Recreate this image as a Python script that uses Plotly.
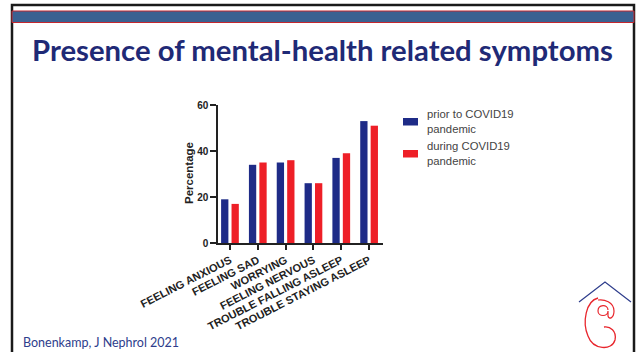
import plotly.graph_objects as go

categories = ["FEELING ANXIOUS", "FEELING SAD", "WORRYING", "FEELING NERVOUS",
              "TROUBLE FALLING ASLEEP", "TROUBLE STAYING ASLEEP"]
prior_values = [19, 34, 35, 26, 37, 53]
during_values = [17, 35, 36, 26, 39, 51]
series_names = ["prior to COVID19<br>pandemic", "during COVID19<br>pandemic"]
y_ticks = [0, 20, 40, 60]

W, H = 637, 352
ML, MR, MT, MB = 218, 254, 105, 109
PW, PH = W - ML - MR, H - MT - MB


def px(x):
    return (x - ML) / PW


def py(y):
    return (H - MB - y) / PH


BLUE = "#1E2B87"
RED = "#EE1F27"

fig = go.Figure()
fig.add_trace(go.Bar(x=list(range(len(categories))), y=prior_values, name=series_names[0],
                     marker=dict(color=BLUE, line=dict(width=0)), showlegend=False))
fig.add_trace(go.Bar(x=list(range(len(categories))), y=during_values, name=series_names[1],
                     marker=dict(color=RED, line=dict(width=0)), showlegend=False))

shapes = []
# slide frame
shapes.append(dict(type="rect", xref="paper", yref="paper", x0=px(12), x1=px(634), y0=py(5), y1=py(360),
                   line=dict(color="#1a1a1a", width=2.5), fillcolor="rgba(0,0,0,0)", layer="below"))
# header band
shapes.append(dict(type="rect", xref="paper", yref="paper", x0=px(12), x1=px(634), y0=py(11), y1=py(22.5),
                   line=dict(color="#C4262E", width=1), fillcolor="#3A6191", layer="below"))
# custom legend swatches
shapes.append(dict(type="rect", xref="paper", yref="paper", x0=px(403), x1=px(418), y0=py(118), y1=py(125.5),
                   line=dict(width=0), fillcolor=BLUE))
shapes.append(dict(type="rect", xref="paper", yref="paper", x0=px(403), x1=px(418), y0=py(150), y1=py(157.5),
                   line=dict(width=0), fillcolor=RED))


def path(points_cmds):
    out = []
    for cmd, pts in points_cmds:
        s = cmd
        s += " ".join(f"{px(a):.5f},{py(b):.5f}" for a, b in pts)
        out.append(s)
    return " ".join(out)


# logo: roof
shapes.append(dict(type="path", xref="paper", yref="paper",
                   path=path([("M", [(579, 302)]), ("L", [(605, 282)]), ("L", [(631, 302)])]),
                   line=dict(color="#2E3D8C", width=1.2)))
# logo: red curl
shapes.append(dict(type="path", xref="paper", yref="paper",
                   path=path([("M", [(598, 298)]),
                              ("C", [(586, 301), (582, 322), (588, 336)]),
                              ("C", [(593, 350), (612, 351), (615, 340)]),
                              ("C", [(617, 331), (610, 326), (604, 327)])]),
                   line=dict(color="#E8262D", width=1.3)))
shapes.append(dict(type="path", xref="paper", yref="paper",
                   path=path([("M", [(608, 310)]),
                              ("C", [(608, 304), (598, 304), (598, 311)]),
                              ("C", [(598, 317), (608, 317), (608, 311)]),
                              ("L", [(608, 316)]),
                              ("C", [(609, 320), (614, 318), (614, 311)]),
                              ("C", [(614, 302), (604, 299), (598, 300)])]),
                   line=dict(color="#E8262D", width=1.2)))

annotations = [
    dict(text="<b>Presence of mental-health related symptoms</b>", xref="paper", yref="paper",
         x=px(322.5), y=py(49), xanchor="center", yanchor="middle", showarrow=False,
         font=dict(family="Lato", size=29.3, color="#1F2A76")),
    dict(text="Bonenkamp, J Nephrol 2021", xref="paper", yref="paper",
         x=px(21), y=py(342), xanchor="left", yanchor="middle", showarrow=False,
         font=dict(family="Lato", size=12.5, color="#2E3D8C")),
    dict(text="<b>Percentage</b>", xref="paper", yref="paper", x=px(189), y=py(173),
         xanchor="center", yanchor="middle", showarrow=False, textangle=-90,
         font=dict(family="Liberation Sans", size=11.5, color="#222")),
    dict(text=series_names[0], xref="paper", yref="paper", x=px(425), y=py(121.5),
         xanchor="left", yanchor="middle", align="left", showarrow=False,
         font=dict(family="Liberation Sans", size=11.3, color="#444")),
    dict(text=series_names[1], xref="paper", yref="paper", x=px(425), y=py(153.5),
         xanchor="left", yanchor="middle", align="left", showarrow=False,
         font=dict(family="Liberation Sans", size=11.3, color="#444")),
]

fig.update_layout(
    width=W, height=H, autosize=False,
    margin=dict(l=ML, r=MR, t=MT, b=MB, pad=0),
    paper_bgcolor="white", plot_bgcolor="white",
    barmode="group", bargap=0.25, bargroupgap=0.3,
    shapes=shapes, annotations=annotations,
    showlegend=False,
)
fig.update_xaxes(
    range=[-0.43, 5.5], tickmode="array", tickvals=list(range(len(categories))), ticktext=categories,
    tickangle=-27, showgrid=False, zeroline=False, showline=True, linecolor="#222", linewidth=1.5,
    ticks="outside", ticklen=5, tickwidth=1.5, tickcolor="#222",
    tickfont=dict(family="Liberation Sans", size=11, color="#222", weight="bold"),
)
fig.update_yaxes(
    range=[0, 60], tickvals=y_ticks, showgrid=False, zeroline=False, showline=True,
    linecolor="#222", linewidth=1.5, ticks="outside", ticklen=6, tickwidth=1.5, tickcolor="#222",
    tickfont=dict(family="Liberation Sans", size=10, color="#222", weight="bold"),
)

fig.write_html("out.html")
